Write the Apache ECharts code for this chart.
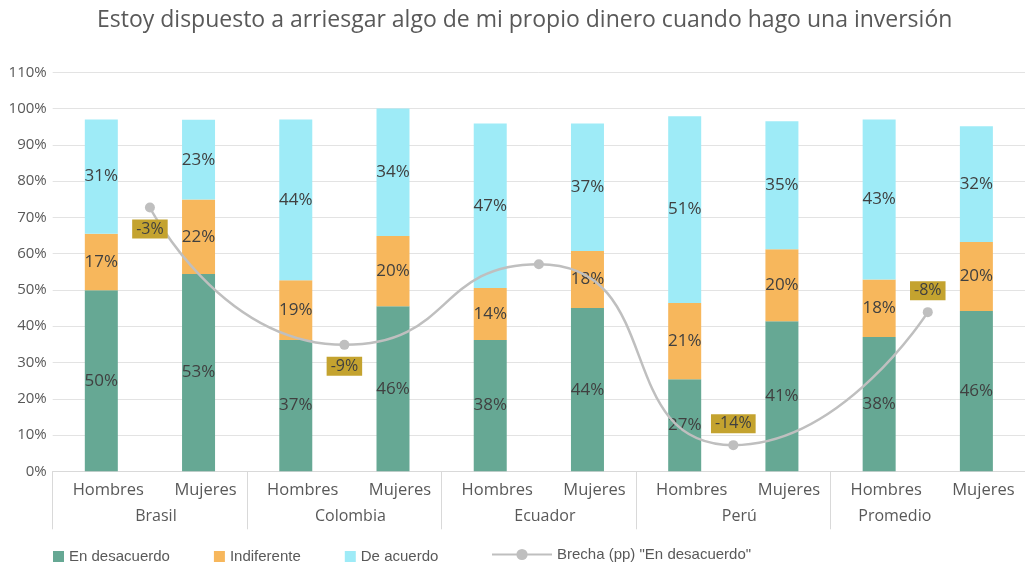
<!DOCTYPE html>
<html>
<head>
<meta charset="utf-8">
<script src="https://cdn.jsdelivr.net/npm/echarts@6/dist/echarts.min.js"></script>
<style>
  html, body { margin: 0; padding: 0; background: #ffffff; }
  #chart { width: 1025px; height: 566px; }
</style>
</head>
<body>
<div id="chart"></div>
<script>
// ---- Data ----
const categories = ['Hombres','Mujeres','Hombres','Mujeres','Hombres','Mujeres','Hombres','Mujeres','Hombres','Mujeres'];
const groups = ['Brasil','Colombia','Ecuador','Perú','Promedio'];

// bar segment heights (%)
const desacuerdo  = [49.9, 54.4, 36.2, 45.5, 36.2, 45.0, 25.4, 41.4, 37.0, 44.2];
const indiferente = [15.6, 20.5, 16.5, 19.4, 14.3, 15.7, 21.0, 19.8, 15.9, 19.0];
const deAcuerdo   = [31.5, 22.0, 44.3, 35.1, 45.4, 35.2, 51.5, 35.3, 44.1, 31.9];

// data label texts as printed on the chart
const desacuerdoLabels  = ['50%','53%','37%','46%','38%','44%','27%','41%','38%','46%'];
const indiferenteLabels = ['17%','22%','19%','20%','14%','18%','21%','20%','18%','20%'];
const deAcuerdoLabels   = ['31%','23%','44%','34%','47%','37%','51%','35%','43%','32%'];

// gap (pp) "En desacuerdo" per country
const brecha = [-3.1, -9.4, -5.7, -14.0, -7.9];
const brechaLabels = ['-3%','-9%','','-14%','-8%'];
const brechaLabelPlacement = ['bottom','bottom','top','top','top'];

const yTicks = { min: 0, max: 110, interval: 10 };

// ---- Styles ----
const C_GREEN = '#66A894', C_ORANGE = '#F7B75C', C_BLUE = '#9EEBF7', C_LINE = '#BFBFBF';
const TXT = '#595959', LBL = '#404040';
const FONT = '"Open Sans", "Noto Sans", sans-serif';
const LEGEND_FONT = '"Liberation Sans", Arial, sans-serif';

function barSeries(name, values, labels, color) {
  return {
    name: name, type: 'bar', stack: 'total', barWidth: 33,
    xAxisIndex: 0, yAxisIndex: 0,
    itemStyle: { color: color },
    label: {
      show: true, position: 'inside', color: LBL, fontFamily: FONT, fontSize: 17,
      formatter: p => labels[p.dataIndex]
    },
    data: values
  };
}

const chart = echarts.init(document.getElementById('chart'), null, { renderer: 'canvas' });
chart.setOption({
  animation: false,
  backgroundColor: '#ffffff',
  title: {
    text: 'Estoy dispuesto a arriesgar algo de mi propio dinero cuando hago una inversión',
    left: 92, top: 4,
    textStyle: { color: TXT, fontFamily: FONT, fontSize: 23, fontWeight: 'normal' }
  },
  legend: [{
    data: ['En desacuerdo','Indiferente','De acuerdo'],
    left: 48, top: 544, itemWidth: 11, itemHeight: 11, itemGap: 44, icon: 'rect',
    textStyle: { color: TXT, fontFamily: LEGEND_FONT, fontSize: 15 }
  }, {
    data: ['Brecha (pp) "En desacuerdo"'],
    left: 486, top: 542, itemWidth: 60, itemHeight: 14,
    textStyle: { color: TXT, fontFamily: LEGEND_FONT, fontSize: 15 }
  }],
  grid: { left: 52.7, top: 72.3, width: 983.3, height: 399, containLabel: false },
  xAxis: [{
    type: 'category', data: categories, position: 'bottom',
    axisLine: { show: true, onZero: false, lineStyle: { color: '#D9D9D9', width: 1 } },
    axisTick: { show: false },
    axisLabel: { color: TXT, fontFamily: FONT, fontSize: 16.5, margin: 10, interval: 0,
                 padding: [0, 0, 0, 14] }
  }, {
    type: 'category', data: groups, position: 'bottom',
    axisLine: { show: false, onZero: false },
    axisTick: { show: true, length: 58, interval: 0, lineStyle: { color: '#D9D9D9', width: 1 } },
    axisLabel: {
      color: TXT, fontFamily: FONT, fontSize: 16, margin: 37, interval: 0,
      // last group label sits left of its band centre in the reference (band is cut by the page edge)
      formatter: (v, i) => i === groups.length - 1 ? '{edge|' + v + '}' : '{std|' + v + '}',
      rich: {
        std: { color: TXT, fontFamily: FONT, fontSize: 16, padding: [0, 0, 0, 12] },
        edge: { color: TXT, fontFamily: FONT, fontSize: 16, padding: [0, 66, 0, 0] }
      }
    }
  }],
  yAxis: [{
    type: 'value', min: yTicks.min, max: yTicks.max, interval: yTicks.interval,
    axisLine: { show: false }, axisTick: { show: false },
    splitLine: { show: true, lineStyle: { color: '#E3E3E3', width: 1 } },
    axisLabel: { color: TXT, fontFamily: FONT, fontSize: 15, margin: 6, formatter: '{value}%' }
  }, {
    type: 'value', min: -15.2, max: 3.1, show: false,
    splitLine: { show: false }
  }],
  series: [
    barSeries('En desacuerdo', desacuerdo, desacuerdoLabels, C_GREEN),
    barSeries('Indiferente', indiferente, indiferenteLabels, C_ORANGE),
    barSeries('De acuerdo', deAcuerdo, deAcuerdoLabels, C_BLUE),
    {
      name: 'Brecha (pp) "En desacuerdo"', type: 'line', smooth: 0.6,
      xAxisIndex: 1, yAxisIndex: 1,
      symbol: 'circle', symbolSize: 10,
      lineStyle: { color: C_LINE, width: 2.5 },
      itemStyle: { color: C_LINE },
      z: 5,
      data: brecha.map((v, i) => ({
        value: v,
        label: {
          show: brechaLabels[i] !== '',
          position: brechaLabelPlacement[i],
          distance: 7,
          formatter: () => brechaLabels[i],
          color: LBL, fontFamily: FONT, fontSize: 16,
          backgroundColor: '#C4A32F', padding: [0, 4, 0, 4], lineHeight: 19
        }
      }))
    }
  ]
});
</script>
</body>
</html>
